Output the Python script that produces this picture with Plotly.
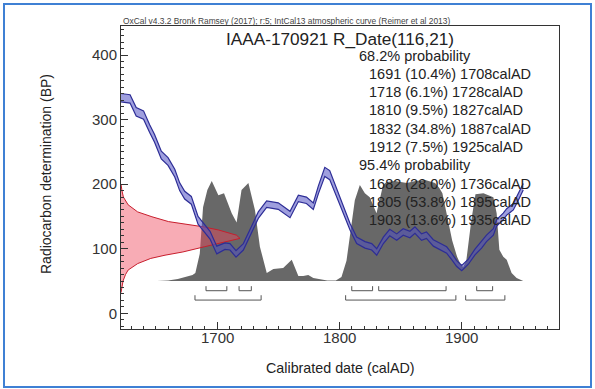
import plotly.graph_objects as go

# ---------------- data ----------------
# IntCal13 calibration curve: calendar year, radiocarbon age (BP), 1-sigma
cal_year = [1621, 1629, 1634, 1640, 1645, 1649, 1654.5, 1660, 1665.5, 1669.5,
            1673.6, 1679, 1684.5, 1691, 1694.3, 1699.8, 1706.5, 1710.6, 1715.5, 1721.5,
            1728.3, 1733.7, 1740.5, 1750, 1759.6, 1766.4, 1773, 1778.6, 1782.7, 1788,
            1792, 1797.7, 1803, 1808.6, 1814, 1820.8, 1826.3, 1830.4, 1835.8, 1841,
            1846.7, 1852, 1857.5, 1861.6, 1867, 1871, 1876.6, 1882, 1887.5, 1891.6,
            1895.7, 1899.8, 1905.2, 1910.6, 1916, 1920, 1925.6, 1928.3, 1933.7, 1936.5,
            1941.9, 1946, 1950]
cal_bp = [334, 332, 312, 307, 286, 271, 245, 235, 217, 196,
          183, 175, 144, 129, 121, 98, 104, 103, 92, 103,
          129, 152, 169, 166, 153, 178, 175, 166, 191, 219,
          214, 186, 162, 134, 113, 106, 103, 95, 113, 125,
          118, 126, 122, 129, 118, 121, 109, 103, 98, 88,
          77, 70, 80, 95, 106, 116, 126, 140, 150, 157,
          165, 180, 196]
cal_sigma = [6.5, 6.5, 6.5, 6.5, 6, 6, 6, 6, 6, 6,
             6, 6, 6, 6, 6, 6, 5, 5, 5, 5,
             5, 5, 5, 5, 5, 5, 5, 5, 6, 7,
             7, 6, 6, 5, 5, 5, 5, 5, 5, 5,
             5, 5, 5, 5, 5, 5, 5, 5, 5, 5,
             4.5, 4, 4, 4.5, 5, 5, 5, 5, 5, 5,
             5, 5, 5]

# Calibrated probability distribution (relative)
prob_year = [1651, 1660, 1668, 1675, 1680, 1682.3, 1685.9, 1688.6, 1692.1, 1695.7,
             1701.1, 1705.7, 1712, 1716, 1720, 1725.6, 1731, 1735, 1740.6, 1746,
             1754, 1761, 1766.4, 1770.4, 1774.5, 1778.6, 1785, 1790, 1797, 1799.5,
             1801.6, 1805.7, 1809.8, 1812.5, 1816.6, 1820.7, 1824.7, 1830.2, 1835.6, 1838.4,
             1845, 1855, 1862, 1870, 1878, 1881.5, 1884, 1888, 1892, 1896,
             1899, 1901, 1903.5, 1907.6, 1911, 1917.5, 1922, 1925.6, 1928.3, 1930.5,
             1933.7, 1936.5, 1940.5, 1944.6, 1950]
prob = [0, 0.005, 0.02, 0.04, 0.06, 0.08, 0.27, 0.73, 0.90, 0.99,
        0.85, 0.87, 0.67, 0.58, 0.90, 0.97, 0.70, 0.34, 0.08, 0.12,
        0.13, 0.21, 0.05, 0.05, 0.06, 0.03, 0.015, 0.005, 0.005, 0.02,
        0.04, 0.20, 0.57, 0.80, 0.95, 0.87, 0.83, 0.67, 0.95, 0.98,
        0.99, 0.97, 0.99, 1.0, 0.97, 0.92, 0.87, 0.64, 0.40, 0.24,
        0.16, 0.14, 0.20, 0.60, 0.86, 0.87, 0.85, 0.83, 0.67, 0.31,
        0.24, 0.21, 0.08, 0.03, 0]

# Radiocarbon measurement distribution R_Date(116,21) (relative)
r_bp = [32, 40, 50, 60, 67, 77, 85, 90, 95, 103, 111, 116,
        121, 129, 134, 138, 142, 149.5, 157, 168, 180, 190, 200]
r_prob = [0, 0.005, 0.017, 0.038, 0.06, 0.14, 0.25, 0.37, 0.52, 0.70, 0.88, 1.0,
          0.97, 0.82, 0.69, 0.55, 0.40, 0.26, 0.14, 0.06, 0.02, 0.008, 0]

# Ranges
r68_start = [1691, 1718, 1810, 1832, 1912]
r68_end = [1708, 1728, 1827, 1887, 1925]
r68_pct = ["10.4%", "6.1%", "9.5%", "34.8%", "7.5%"]
r95_start = [1682, 1805, 1903]
r95_end = [1736, 1895, 1935]
r95_pct = ["28.0%", "53.8%", "13.6%"]

x_ticks = [1700, 1800, 1900]
y_ticks = [0, 100, 200, 300, 400]

title_text = "IAAA-170921 R_Date(116,21)"
header_text = "OxCal v4.3.2 Bronk Ramsey (2017); r:5; IntCal13 atmospheric curve (Reimer et al 2013)"

# ---------------- layout geometry ----------------
W, H = 595, 389
L, R, T, B = 121, 36, 26, 60
PW, PH = W - L - R, H - T - B


def px_x(px):
    return (px - L) / PW


def px_y(py):
    return (H - B - py) / PH


FONT = "Liberation Sans, Arial, sans-serif"
TXT = "#222222"
AX = "#333333"

fig = go.Figure()

# range brackets (main axes)
def brackets(starts, ends, base, top):
    xs, ys = [], []
    for a, b in zip(starts, ends):
        xs += [a, a, b, b, None]
        ys += [top, base, base, top, None]
    return xs, ys


bx, by = brackets(r68_start, r68_end, 35, 42)
fig.add_trace(go.Scatter(x=bx, y=by, mode="lines", line=dict(width=1, color="#555555"),
                         hoverinfo="skip", showlegend=False))
bx, by = brackets(r95_start, r95_end, 20.5, 28)
fig.add_trace(go.Scatter(x=bx, y=by, mode="lines", line=dict(width=1, color="#555555"),
                         hoverinfo="skip", showlegend=False))

# gray calibrated distribution (own probability axis)
fig.add_trace(go.Scatter(x=prob_year, y=prob, xaxis="x", yaxis="y2", mode="lines",
                         line=dict(width=0, color="rgb(104,104,104)"),
                         fill="tozeroy", fillcolor="rgb(104,104,104)",
                         hoverinfo="skip", showlegend=False))

# red R_Date distribution (own probability axis along x)
fig.add_trace(go.Scatter(x=r_prob, y=r_bp, xaxis="x2", yaxis="y", mode="lines",
                         line=dict(width=1, color="rgb(200,30,45)"),
                         fill="toself", fillcolor="rgba(240,70,90,0.45)",
                         hoverinfo="skip", showlegend=False))

# blue calibration curve band
upper = [c + s for c, s in zip(cal_bp, cal_sigma)]
lower = [c - s for c, s in zip(cal_bp, cal_sigma)]
fig.add_trace(go.Scatter(x=cal_year, y=lower, xaxis="x3", yaxis="y3", mode="lines",
                         line=dict(width=1.2, color="rgb(45,45,150)"),
                         hoverinfo="skip", showlegend=False))
fig.add_trace(go.Scatter(x=cal_year, y=upper, xaxis="x3", yaxis="y3", mode="lines",
                         line=dict(width=1.2, color="rgb(45,45,150)"),
                         fill="tonexty", fillcolor="rgba(80,80,195,0.55)",
                         hoverinfo="skip", showlegend=False))

XR = [1621.6, 1979.2]
YR = [-24.3, 444.9]

axis_common = dict(showline=True, linecolor=AX, linewidth=1, mirror=True,
                   showgrid=False, zeroline=False, ticks="inside", ticklen=7,
                   tickcolor=AX)

fig.update_layout(
    width=W, height=H,
    margin=dict(l=L, r=R, t=T, b=B),
    paper_bgcolor="white", plot_bgcolor="rgba(0,0,0,0)",
    showlegend=False,
    xaxis=dict(range=XR, tickvals=x_ticks, showticklabels=False,
               minor=dict(dtick=10, ticklen=3, ticks="inside", tickcolor=AX),
               **axis_common),
    yaxis=dict(range=YR, tickvals=y_ticks,
               tickfont=dict(family=FONT, size=15, color=AX),
               minor=dict(dtick=10, ticklen=3, ticks="inside", tickcolor=AX),
               **axis_common),
    xaxis2=dict(range=[0, PW / 119.0], overlaying="x", anchor="y", visible=False),
    yaxis2=dict(range=[-0.475, 2.525], overlaying="y", anchor="x", visible=False),
    xaxis3=dict(range=XR, overlaying="x", anchor="y3", visible=False),
    yaxis3=dict(range=YR, overlaying="y", anchor="x3", visible=False),
)

ann = []
ann.append(dict(text=header_text, x=px_x(121), y=px_y(20.5), xanchor="left", yanchor="middle",
                font=dict(family=FONT, size=8.4, color="#444444"), xref="paper", yref="paper"))
ann.append(dict(text=title_text, x=px_x(339.5), y=px_y(38.5), xanchor="center", yanchor="middle",
                font=dict(family=FONT, size=17.2, color=TXT), xref="paper", yref="paper"))

lines = [("68.2% probability", 357)]
for a, p, b in zip(r68_start, r68_pct, r68_end):
    lines.append((f"{a} ({p}) {b}calAD", 367))
lines.append(("95.4% probability", 357))
for a, p, b in zip(r95_start, r95_pct, r95_end):
    lines.append((f"{a} ({p}) {b}calAD", 367))
for i, (t, x0) in enumerate(lines):
    ann.append(dict(text=t, x=px_x(x0), y=px_y(55.5 + i * 18.3), xanchor="left", yanchor="middle",
                    font=dict(family=FONT, size=14.5, color=TXT), xref="paper", yref="paper"))

# x tick labels placed at data positions
for v in x_ticks:
    ann.append(dict(text=str(v), x=v, xref="x", y=px_y(337), yref="paper",
                    xanchor="center", yanchor="middle",
                    font=dict(family=FONT, size=15, color=AX)))

ann.append(dict(text="Calibrated date (calAD)", x=px_x(340), y=px_y(368), xanchor="center",
                yanchor="middle", font=dict(family=FONT, size=14.3, color=TXT),
                xref="paper", yref="paper"))
ann.append(dict(text="Radiocarbon determination (BP)", x=px_x(46), y=px_y(174), xanchor="center",
                yanchor="middle", textangle=-90, font=dict(family=FONT, size=14, color=TXT),
                xref="paper", yref="paper"))

for a in ann:
    a.update(showarrow=False)
fig.update_layout(annotations=ann)

# outer blue frame
fig.add_shape(type="rect", xref="paper", yref="paper",
              x0=px_x(4), x1=px_x(591), y0=px_y(387), y1=px_y(4),
              line=dict(color="#3f80d4", width=2), fillcolor="rgba(0,0,0,0)", layer="above")

fig.write_html("out.html", config={"displayModeBar": False},
               post_script="document.body.style.margin='0';")
